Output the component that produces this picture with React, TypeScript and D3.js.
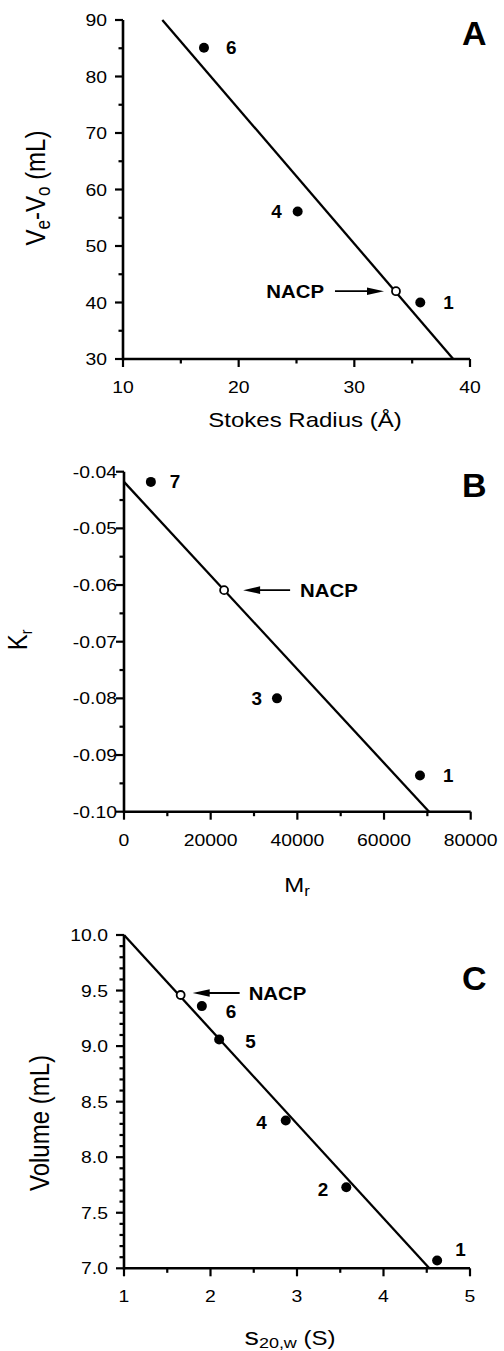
import React from 'react';
import * as d3 from 'd3';

const FONT = '"Liberation Sans", Arial, Helvetica, sans-serif';

// panel A : gel filtration
const stokesRadius = [17.0, 25.1, 35.7];
const elutionVolA = [85.1, 56.1, 40.0];
const labelsA = ['6', '4', '1'];
const nacpA = [33.6, 42.0];
const fitA = [[13.4, 90], [38.55, 30]];
const xTicksA = [10, 20, 30, 40];
const xMinorA = [15, 25, 35];
const yTicksA = [30, 40, 50, 60, 70, 80, 90];
const yMinorA = [35, 45, 55, 65, 75, 85];

// panel B : native gel
const mrValues = [6200, 35300, 68300];
const krValues = [-0.0418, -0.08, -0.0936];
const labelsB = ['7', '3', '1'];
const nacpB = [23100, -0.0609];
const fitB = [[0, -0.0418], [70400, -0.1]];
const xTicksB = [0, 20000, 40000, 60000, 80000];
const xMinorB = [10000, 30000, 50000, 70000];
const yTicksB = [-0.1, -0.09, -0.08, -0.07, -0.06, -0.05, -0.04];
const yTickLabelsB = ['-0.10', '-0.09', '-0.08', '-0.07', '-0.06', '-0.05', '-0.04'];
const yMinorB = [-0.095, -0.085, -0.075, -0.065, -0.055, -0.045];

// panel C : sedimentation
const sedCoef = [1.9, 2.1, 2.87, 3.57, 4.62];
const volumeC = [9.36, 9.06, 8.33, 7.73, 7.07];
const labelsC = ['6', '5', '4', '2', '1'];
const nacpC = [1.655, 9.46];
const fitC = [[1, 10.0], [4.53, 7.0]];
const xTicksC = [1, 2, 3, 4, 5];
const xMinorC = [1.5, 2.5, 3.5, 4.5];
const yTicksC = [7.0, 7.5, 8.0, 8.5, 9.0, 9.5, 10.0];
const yMinorC = d3.range(71, 100).filter(v => v % 5 !== 0).map(v => v / 10);

const SText = ({ x, y, sx = 1, children, ...rest }: any) => (
  <text transform={`translate(${x},${y}) scale(${sx},1)`} {...rest}>{children}</text>
);

const Panel = (props: any) => {
  const { xDomain, yDomain, xRange, yRange, xTicks, xMinor, yTicks, yMinor, yLabels, xLabels,
    pts, labels, labelOff, nacp, nacpDir, fit, letter, letterY, yGap, yFmt } = props;
  const x = d3.scaleLinear().domain(xDomain).range(xRange);
  const y = d3.scaleLinear().domain(yDomain).range(yRange);
  const x0 = xRange[0], y0 = yRange[0];
  const line = d3.line<number[]>().x(d => x(d[0])).y(d => y(d[1]));
  const nx = x(nacp[0]), ny = y(nacp[1]);
  let arrow: any = null;
  if (nacpDir === 'right') {
    const hx = nx - 12, tx = nx - 61;
    arrow = <g>
      <line x1={tx} y1={ny} x2={hx - 12} y2={ny} stroke="#000" strokeWidth={1.8} />
      <path d={`M${hx},${ny} L${hx - 17},${ny - 3.8} L${hx - 17},${ny + 3.8} Z`} fill="#000" />
      <SText x={nx - 72} y={ny + 7} sx={1.1} fontSize={18.5} fontWeight="bold" textAnchor="end">NACP</SText>
    </g>;
  } else {
    const [hdx, tdx, txdx, dy] = nacpDir;
    const hx = nx + hdx, tx = nx + tdx;
    arrow = <g>
      <line x1={hx + 12} y1={ny + dy} x2={tx} y2={ny + dy} stroke="#000" strokeWidth={1.8} />
      <path d={`M${hx},${ny + dy} L${hx + 17},${ny + dy - 3.8} L${hx + 17},${ny + dy + 3.8} Z`} fill="#000" />
      <SText x={nx + txdx} y={ny + dy + 7} sx={1.1} fontSize={18.5} fontWeight="bold">NACP</SText>
    </g>;
  }
  return (
    <g fontFamily={FONT}>
      {/* axes */}
      <line x1={x0} y1={y0} x2={xRange[1]} y2={y0} stroke="#000" strokeWidth={2.6} />
      <line x1={x0} y1={y0 + 1.3} x2={x0} y2={yRange[1]} stroke="#000" strokeWidth={2.6} />
      {xTicks.map((t: number, i: number) => <g key={'xt' + i}>
        <line x1={x(t)} x2={x(t)} y1={y0} y2={y0 + 8} stroke="#000" strokeWidth={2.2} />
        <SText x={x(t)} y={y0 + 34} sx={1.14} fontSize={17} textAnchor="middle">{xLabels ? xLabels[i] : t}</SText>
      </g>)}
      {xMinor.map((t: number, i: number) =>
        <line key={'xm' + i} x1={x(t)} x2={x(t)} y1={y0} y2={y0 + 4.5} stroke="#000" strokeWidth={2.2} />)}
      {yTicks.map((t: number, i: number) => <g key={'yt' + i}>
        <line x1={x0 - 8} x2={x0} y1={y(t)} y2={y(t)} stroke="#000" strokeWidth={2.2} />
        <SText x={x0 - yGap} y={y(t) + 6} sx={1.14} fontSize={17} textAnchor="end">{yLabels ? yLabels[i] : yFmt(t)}</SText>
      </g>)}
      {yMinor.map((t: number, i: number) =>
        <line key={'ym' + i} x1={x0 - 4.5} x2={x0} y1={y(t)} y2={y(t)} stroke="#000" strokeWidth={2.2} />)}
      {/* fit line */}
      <path d={line(fit) || ''} fill="none" stroke="#000" strokeWidth={2.3} />
      {/* points */}
      {pts.map((p: number[], i: number) => <g key={'p' + i}>
        <circle cx={x(p[0])} cy={y(p[1])} r={5} fill="#000" />
        <SText x={x(p[0]) + labelOff[i][0]} y={y(p[1]) + labelOff[i][1] + 6.5} sx={1.05} fontSize={18}
          fontWeight="bold" textAnchor={labelOff[i][0] < 0 ? 'end' : 'start'}>{labels[i]}</SText>
      </g>)}
      <circle cx={nx} cy={ny} r={4} fill="#fff" stroke="#000" strokeWidth={1.8} />
      {arrow}
      <text x={462} y={letterY} fontSize={34} fontWeight="bold">{letter}</text>
    </g>
  );
};

const YTitle = ({ x, y, children }: any) => (
  <text transform={`translate(${x},${y}) rotate(-90) scale(1,1.17)`} fontSize={24} textAnchor="middle" fontFamily={FONT}>{children}</text>
);

export default function App() {
  const ptsA = stokesRadius.map((v, i) => [v, elutionVolA[i]]);
  const ptsB = mrValues.map((v, i) => [v, krValues[i]]);
  const ptsC = sedCoef.map((v, i) => [v, volumeC[i]]);
  return (
    <svg width={504} height={1351} style={{ position: 'absolute', left: 0, top: 0, background: '#fff' }}>
      <rect width={504} height={1351} fill="#fff" />
      <Panel xDomain={[10, 40]} yDomain={[30, 90]} xRange={[123, 470]} yRange={[359, 20]}
        xTicks={xTicksA} xMinor={xMinorA} yTicks={yTicksA} yMinor={yMinorA} yGap={16} yFmt={d3.format('d')}
        pts={ptsA} labels={labelsA} labelOff={[[22, 0], [-16, 0], [23, 0]]}
        nacp={nacpA} nacpDir="right" fit={fitA} letter="A" letterY={45} />
      <Panel xDomain={[0, 80000]} yDomain={[-0.1, -0.04]} xRange={[124, 470.7]} yRange={[811.7, 471.7]}
        xTicks={xTicksB} xMinor={xMinorB} yTicks={yTicksB} yMinor={yMinorB} yLabels={yTickLabelsB} yGap={7}
        yFmt={d3.format('.2f')}
        pts={ptsB} labels={labelsB} labelOff={[[19, 0], [-15, 0], [23, 0]]}
        nacp={nacpB} nacpDir={[19, 66, 76, 0]} fit={fitB} letter="B" letterY={497} />
      <Panel xDomain={[1, 5]} yDomain={[7, 10]} xRange={[124, 470]} yRange={[1268.3, 935]}
        xTicks={xTicksC} xMinor={xMinorC} yTicks={yTicksC} yMinor={yMinorC} yGap={16} yFmt={d3.format('.1f')}
        pts={ptsC} labels={labelsC} labelOff={[[24, 5], [26, 2], [-19, 2], [-18, 2], [18, -11]]}
        nacp={nacpC} nacpDir={[12, 59, 68, -2]} fit={fitC} letter="C" letterY={990} />

      {/* axis titles */}
      <g fontFamily={FONT}>
        <SText x={305} y={427} sx={1.2} fontSize={20} textAnchor="middle">Stokes Radius (Å)</SText>
        <SText x={297} y={892} sx={1.2} fontSize={20} textAnchor="middle">M<tspan fontSize={14} dy={4}>r</tspan></SText>
        <SText x={290} y={1345} sx={1.2} fontSize={20} textAnchor="middle">
          <tspan fontSize={24}>s</tspan><tspan fontSize={15} dy={3}>20,w</tspan><tspan dy={-3}> (S)</tspan>
        </SText>
      </g>
      <YTitle x={45} y={188}>V<tspan fontSize={17} dy={4}>e</tspan><tspan dy={-4}>-V</tspan><tspan fontSize={17} dy={4}>o</tspan><tspan dy={-4}> (mL)</tspan></YTitle>
      <YTitle x={27} y={640}>K<tspan fontSize={14} dy={4}>r</tspan></YTitle>
      <YTitle x={49} y={1123}>Volume (mL)</YTitle>
    </svg>
  );
}
